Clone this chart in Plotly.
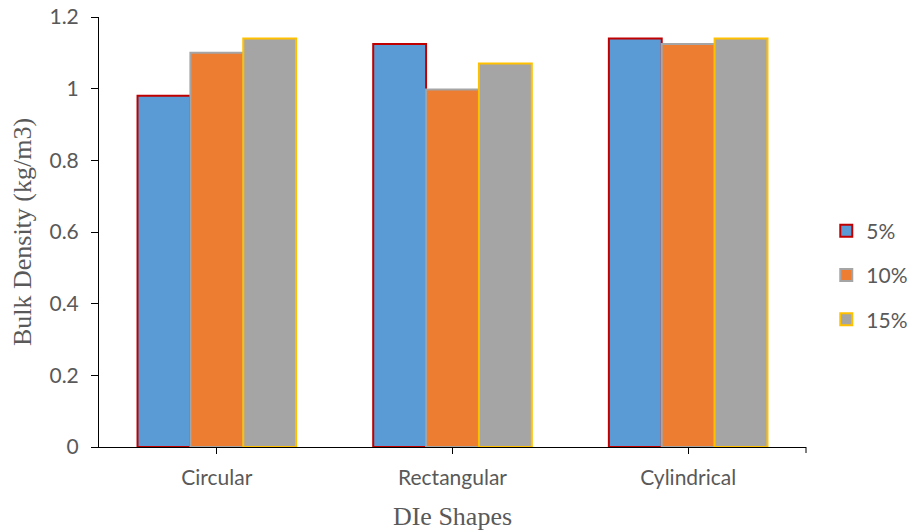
import plotly.graph_objects as go

# Die shapes and bulk density per binder level
shapes = ["Circular", "Rectangular", "Cylindrical"]
series_names = ["5%", "10%", "15%"]
density_5 = [0.98, 1.125, 1.14]
density_10 = [1.10, 0.998, 1.125]
density_15 = [1.14, 1.07, 1.14]
y_ticks = [0, 0.2, 0.4, 0.6, 0.8, 1.0, 1.2]
y_tick_text = ["0", "0.2", "0.4", "0.6", "0.8", "1", "1.2"]

fills = ["#5B9BD5", "#ED7D31", "#A5A5A5"]
outlines = ["#C00000", "#A5A5A5", "#FFC000"]

fig = go.Figure()
for i, (name, vals) in enumerate(zip(series_names, [density_5, density_10, density_15])):
    fig.add_trace(go.Bar(
        x=shapes, y=vals, name=name, legendgroup=name,
        marker=dict(color=fills[i], line=dict(color=outlines[i], width=2)),
    ))

tick_font = dict(family="Lato, Open Sans, sans-serif", size=21, color="#595959")
title_font = dict(family="Liberation Serif, Times New Roman, serif", size=26, color="#595959")

fig.update_layout(
    width=911, height=531,
    margin=dict(l=99, r=105, t=17, b=84),
    paper_bgcolor="white", plot_bgcolor="white",
    barmode="group", bargap=0.327, bargroupgap=0,
    showlegend=True,
    legend=dict(xref="container", yref="container", x=0.907, xanchor="left",
                y=0.482, yanchor="middle",
                font=tick_font, tracegroupgap=14, bgcolor="rgba(0,0,0,0)"),
    xaxis=dict(
        type="category", showline=True, linecolor="black", linewidth=1,
        ticks="outside", ticklen=6, tickcolor="black", tickfont=tick_font,
        ticklabelstandoff=6, showgrid=False, automargin=False,
        title=dict(text="DIe Shapes", font=title_font, standoff=18),
    ),
    yaxis=dict(
        range=[0, 1.2], tickvals=y_ticks, ticktext=y_tick_text,
        showline=True, linecolor="black", linewidth=1,
        ticks="outside", ticklen=7, tickcolor="black", tickfont=tick_font,
        ticklabelstandoff=8, showgrid=False, zeroline=False, automargin=False,
        title=dict(text="Bulk Density (kg/m3)", font=title_font, standoff=10),
    ),
)

# closing tick at the right end of the category axis
fig.add_shape(type="line", xref="paper", yref="paper", x0=1, x1=1, y0=0, y1=-0.014,
              line=dict(color="black", width=1))

fig.write_html("out.html")
